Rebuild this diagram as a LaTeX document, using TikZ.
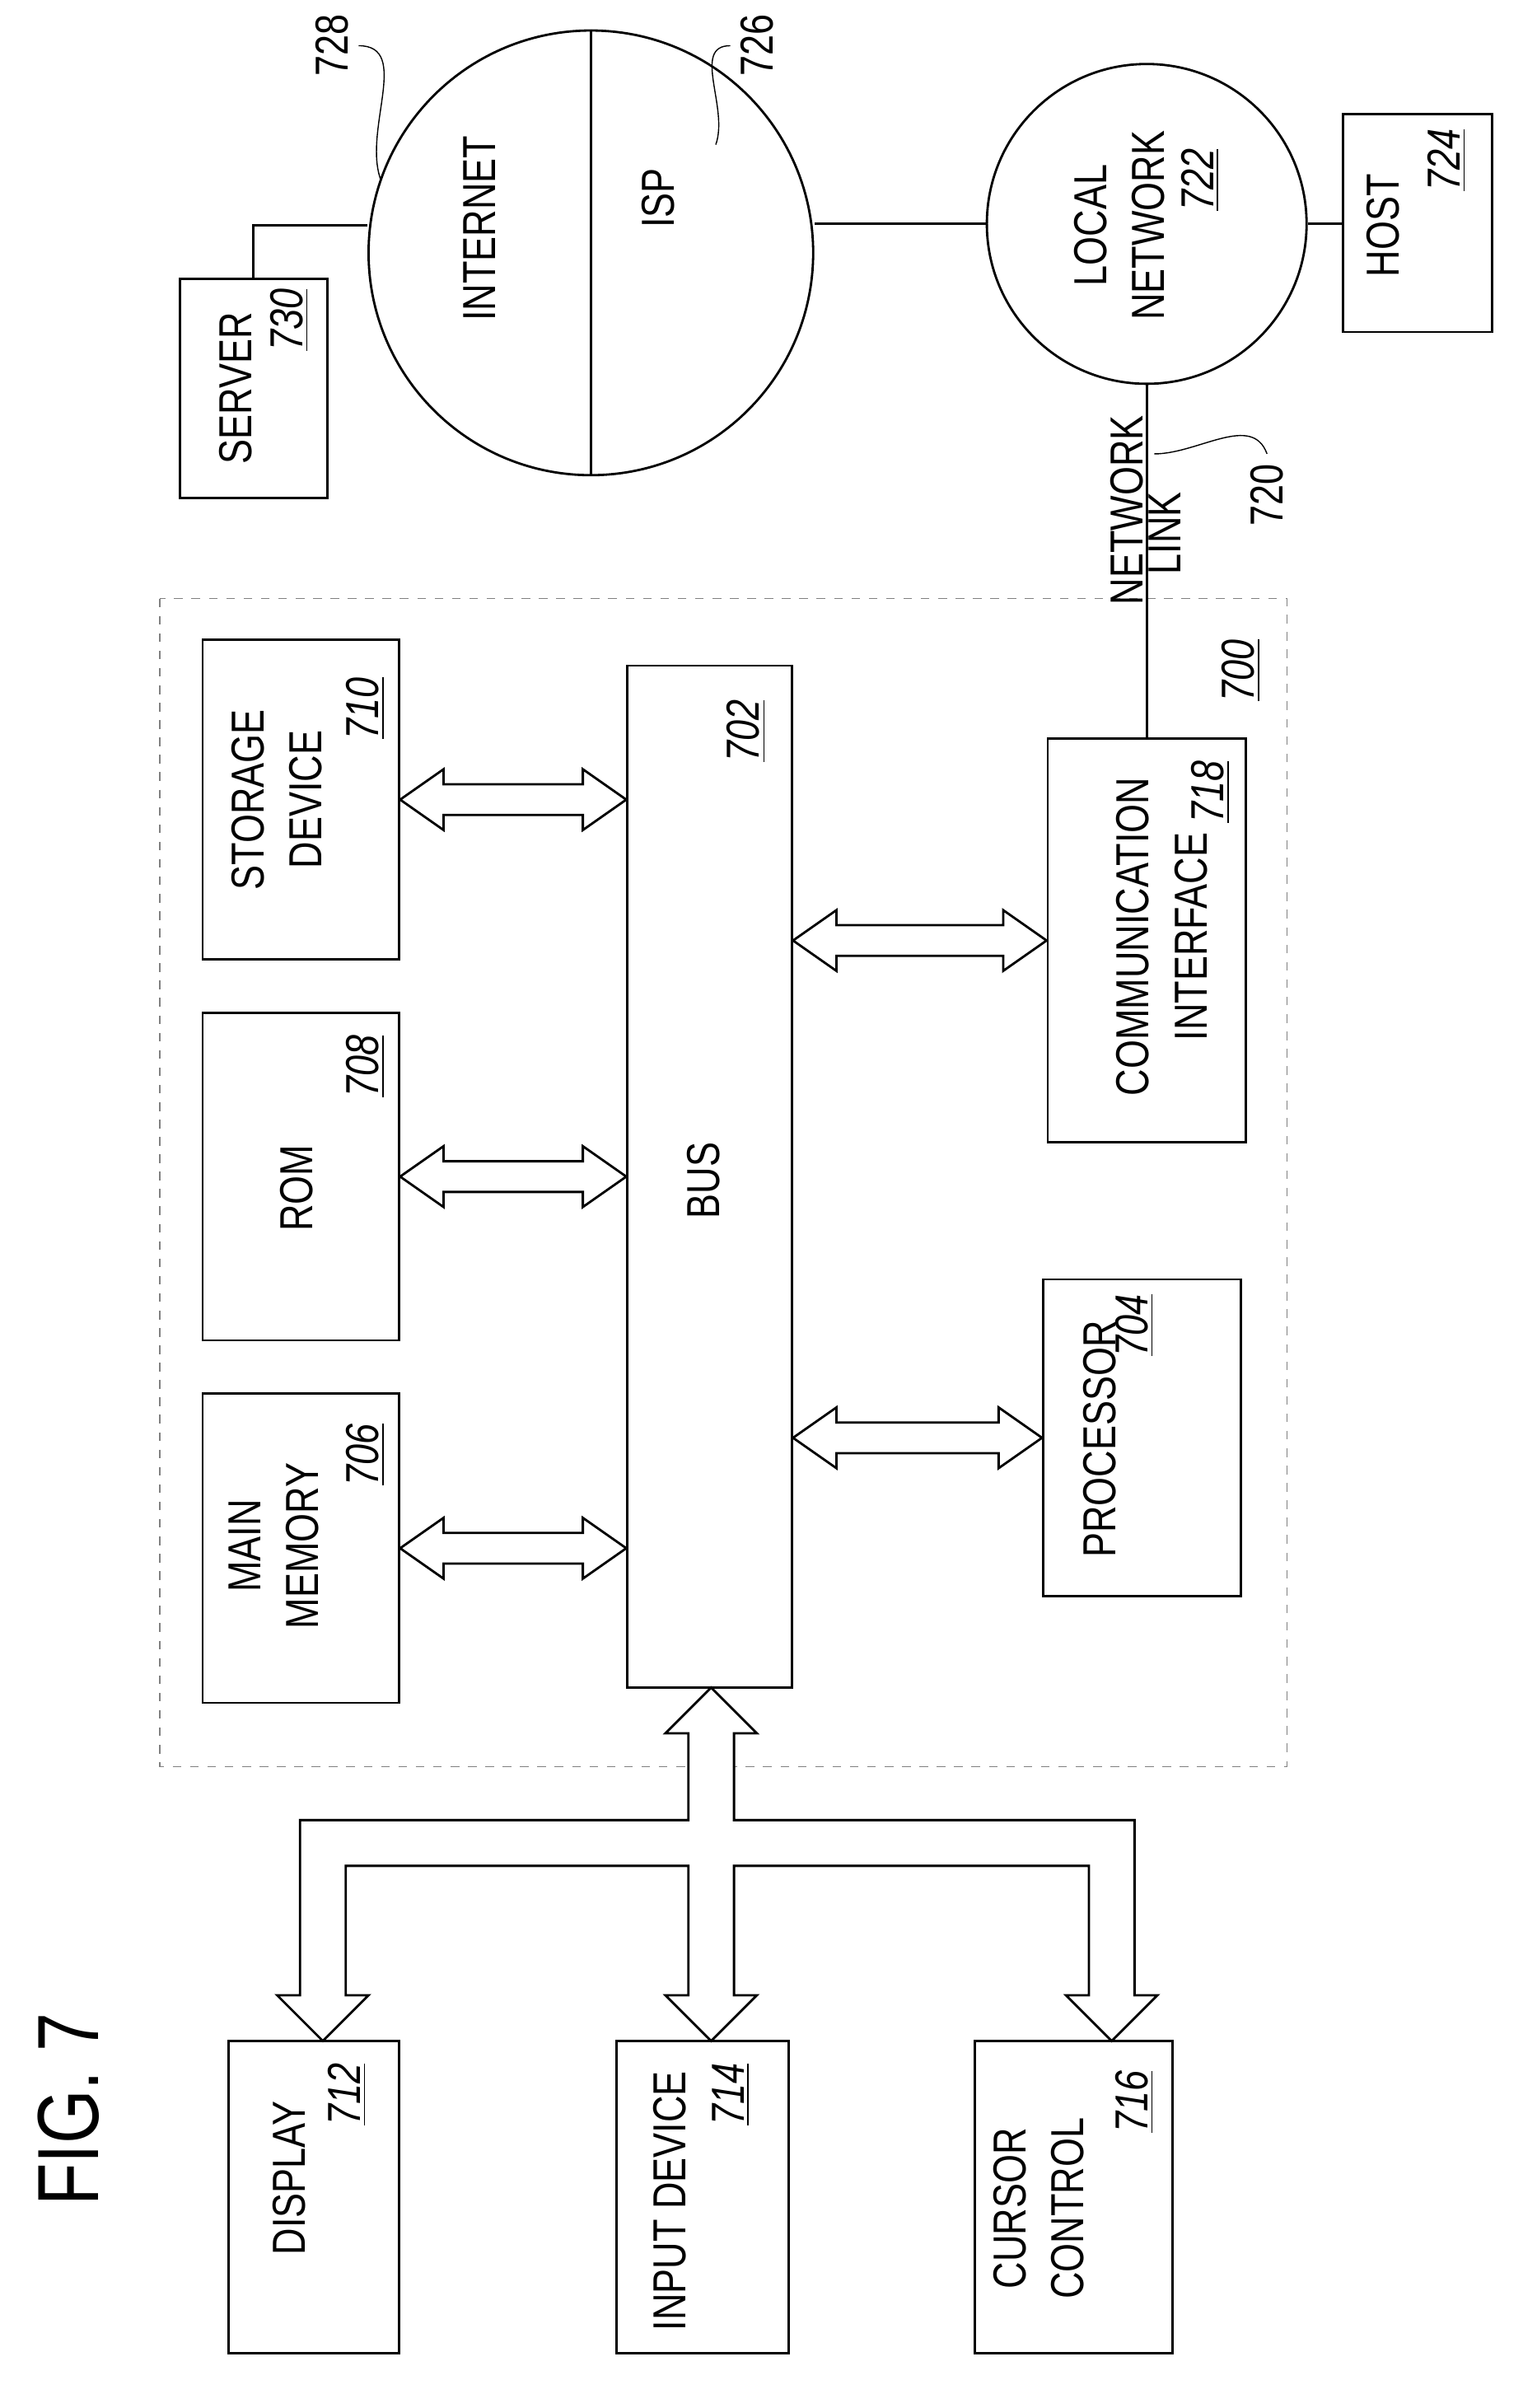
\documentclass[tikz,border=0pt]{standalone}
\usepackage{fontspec}
\setmainfont{Liberation Sans}[FakeStretch=0.8]
\usetikzlibrary{positioning,calc}
\newcommand{\px}{0.5261pt}
\newcommand{\dblarrow}[2]{% #1: left point, #2: right point (same height)
	\draw[thick,fill=white] let \p1=(#1), \p2=(#2) in
	(\x1,\y1) -- (\x1+15pt,\y1+10.5pt) -- (\x1+15pt,\y1+5.3pt) -- (\x2-15pt,\y1+5.3pt)
	-- (\x2-15pt,\y1+10.5pt) -- (\x2,\y1) -- (\x2-15pt,\y1-10.5pt) -- (\x2-15pt,\y1-5.3pt)
	-- (\x1+15pt,\y1-5.3pt) -- (\x1+15pt,\y1-10.5pt) -- cycle;
}
\tikzset{
	blk/.style 2 args={draw,thick,inner sep=0pt,minimum width=#1*\px,minimum height=#2*\px},
	txt/.style={rotate=90,align=center,font=\fontsize{16}{20}\selectfont},
	num/.style={rotate=90,font=\fontsize{16}{20}\selectfont\itshape}
}
\begin{document}
\begin{tikzpicture}[x=0.01849cm,y=-0.01849cm]
	\useasboundingbox (0,0) rectangle (1000,1581);
	
	% Figure title
	\node[rotate=90,font=\fontsize{30}{36}\selectfont] (fig) at (45,1385) {FIG. 7};
	
	% Computer system
	\draw[gray,dashed] (105,393) rectangle (845,1160);
	\node[num] (n700) at (815,440) {\underline{700}};
	
	\node[blk={129}{210}] (sd) at (197.5,525) {};
	\node[blk={129}{215}] (rom) at (197.5,772.5) {};
	\node[blk={129}{203}] (mm) at (197.5,1016.5) {};
	\node[blk={108}{671}] (bus) at (466,772.5) {};
	\node[blk={130}{265}] (ci) at (753,617.5) {};
	\node[blk={130}{208}] (proc) at (750,944) {};
	\node[blk={112}{205}] (disp) at (206,1442.5) {};
	\node[blk={113}{205}] (inp) at (461.5,1442.5) {};
	\node[blk={130}{205}] (cur) at (705,1442.5) {};
	
	\node[txt] at (182,525) {STORAGE\\DEVICE};
	\node[num] at (240,465) {\underline{710}};
	\node[txt] at (195,780) {ROM};
	\node[num] at (240,700) {\underline{708}};
	\node[txt] at (180,1015) {MAIN\\MEMORY};
	\node[num] at (240,955) {\underline{706}};
	\node[txt] at (462,775) {BUS};
	\node[num] at (490,480) {\underline{702}};
	\node[txt] at (763,615) {COMMUNICATION\\INTERFACE};
	\node[num] at (795,520) {\underline{718}};
	\node[txt] at (722,945) {PROCESSOR};
	\node[num] at (745,870) {\underline{704}};
	\node[txt] at (190,1430) {DISPLAY};
	\node[num] at (228,1375) {\underline{712}};
	\node[txt] at (440,1445) {INPUT DEVICE};
	\node[num] at (480,1375) {\underline{714}};
	\node[txt] at (682,1450) {CURSOR\\CONTROL};
	\node[num] at (745,1380) {\underline{716}};
	
	% Bus arrows
	\dblarrow{sd.east}{sd.east -| bus.west}
	\dblarrow{rom.east}{rom.east -| bus.west}
	\dblarrow{mm.east}{mm.east -| bus.west}
	\dblarrow{bus.east |- ci.west}{ci.west}
	\dblarrow{bus.east |- proc.west}{proc.west}
	
	% Peripheral tree
	\draw[thick,fill=white] (467,1108) -- (497,1138) -- (482,1138) -- (482,1195) -- (745,1195)
	-- (745,1310) -- (760,1310) -- (730,1340) -- (700,1310) -- (715,1310) -- (715,1225)
	-- (482,1225) -- (482,1310) -- (497,1310) -- (467,1340) -- (437,1310) -- (452,1310)
	-- (452,1225) -- (227,1225) -- (227,1310) -- (242,1310) -- (212,1340) -- (182,1310)
	-- (197,1310) -- (197,1195) -- (452,1195) -- (452,1138) -- (437,1138) -- cycle;
	
	% Networks
	\node[draw,thick,circle,minimum size=292*\px,inner sep=0pt] (inet) at (388,166) {};
	\node[draw,thick,circle,minimum size=210*\px,inner sep=0pt] (lan) at (753,147) {};
	\node[blk={97}{144}] (srv) at (166.5,255) {};
	\node[blk={98}{143}] (host) at (931,146.5) {};
	
	\draw[thick] (inet.north) -- (inet.south);
	\node[txt] at (315,150) {INTERNET};
	\node[txt] at (432,130) {ISP};
	\node[txt] at (735,148) {LOCAL\\NETWORK};
	\node[num] at (788,118) {\underline{722}};
	\node[txt] at (908,148) {HOST};
	\node[num] at (950,105) {\underline{724}};
	\node[txt] at (155,255) {SERVER};
	\node[num] at (190,210) {\underline{730}};
	
	\draw[thick] (lan.west) -- (lan.west -| inet.east);
	\draw[thick] (lan.east) -- (lan.east -| host.west);
	\draw[thick] (srv.north) |- (inet.west |- 0,148);
	\draw[thick] (lan.south) -- (lan.south |- ci.north);
	
	% Link and reference labels
	\node[txt] at (740,335) {NETWORK};
	\node[txt] at (765,350) {LINK};
	\node[rotate=90,font=\fontsize{16}{20}\selectfont] (n720) at (832,325) {720};
	\node[rotate=90,font=\fontsize{16}{20}\selectfont] (n728) at (218,30) {728};
	\node[rotate=90,font=\fontsize{16}{20}\selectfont] (n726) at (497,30) {726};
	\coordinate (c720) at (758,298);
	\coordinate (c728) at (250,118);
	\coordinate (c726) at (470,95);
	\draw (n720.east) to[out=110,in=0] (c720);
	\draw (n728.south) to[out=0,in=110] (c728);
	\draw (n726.north) to[out=180,in=70] (c726);
\end{tikzpicture}
\end{document}
